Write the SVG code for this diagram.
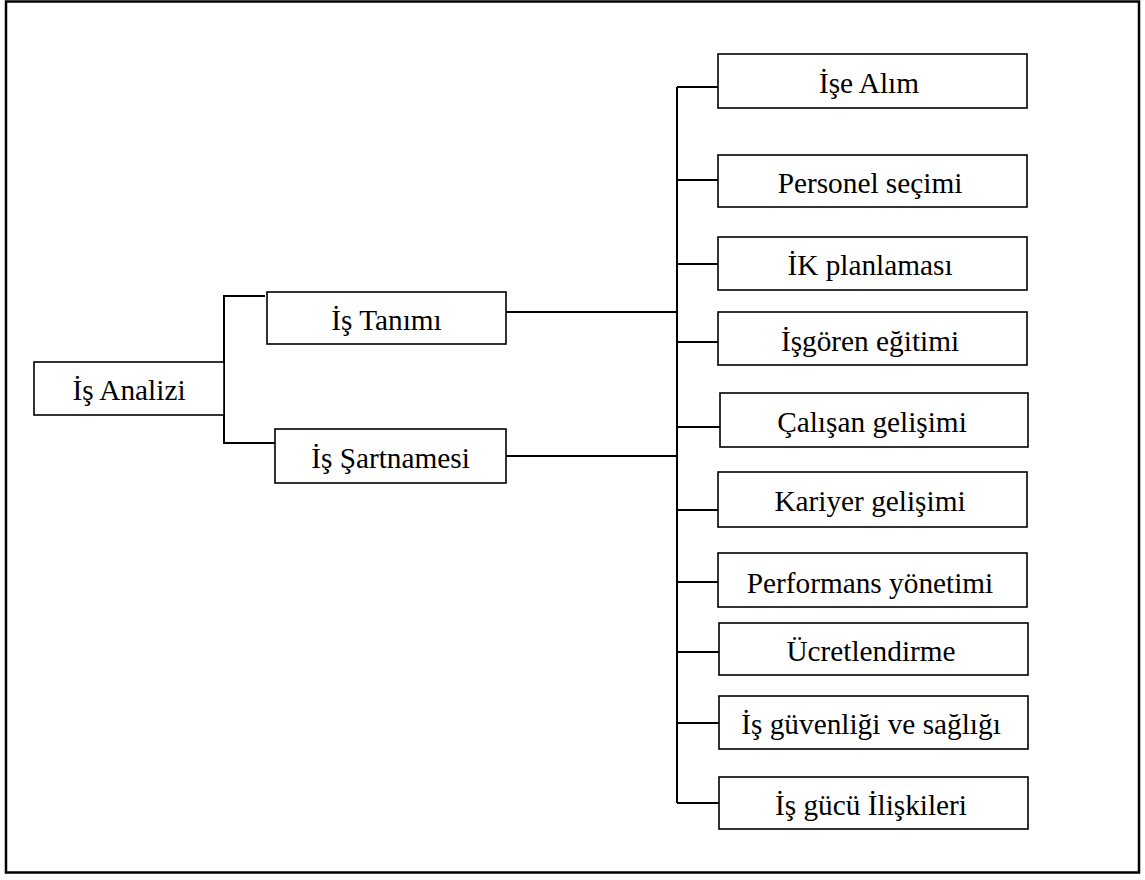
<svg xmlns="http://www.w3.org/2000/svg" width="1145" height="880" viewBox="0 0 1145 880">
<style>
.box{fill:#fff;stroke:#000;stroke-width:1.6}
.lbl{font-family:"Liberation Serif","Times New Roman",serif;font-size:29.3px;fill:#000;text-anchor:middle}
.con{fill:none;stroke:#000;stroke-width:2}
</style>
<rect x="0" y="0" width="1145" height="880" fill="#fff"/>
<rect x="6" y="1.5" width="1133" height="871" fill="none" stroke="#000" stroke-width="2.5"/>
<g id="connectors" class="con">
<path d="M265,296 H224 V443 H275"/>
<path d="M506,312 H677"/>
<path d="M506,456 H678"/>
<path d="M677,87 V803"/>
<path d="M677,87 H718"/>
<path d="M677,180 H718"/>
<path d="M677,264 H718"/>
<path d="M677,342 H718"/>
<path d="M677,427 H720"/>
<path d="M677,510 H718"/>
<path d="M677,582 H718"/>
<path d="M677,652 H719"/>
<path d="M677,723 H719"/>
<path d="M677,803 H719"/>
</g>
<g id="n-is-analizi"><rect class="box" x="34" y="362" width="190" height="53"/><text class="lbl" x="129" y="400">İş Analizi</text></g>
<g id="n-is-tanimi"><rect class="box" x="267" y="292" width="239" height="52"/><text class="lbl" x="386.5" y="330">İş Tanımı</text></g>
<g id="n-is-sartnamesi"><rect class="box" x="275" y="429" width="231" height="54"/><text class="lbl" x="390.5" y="468">İş Şartnamesi</text></g>
<g id="n-ise-alim"><rect class="box" x="718" y="54" width="309" height="54"/><text class="lbl" x="869" y="93">İşe Alım</text></g>
<g id="n-personel"><rect class="box" x="718" y="155" width="309" height="52"/><text class="lbl" x="870" y="193">Personel seçimi</text></g>
<g id="n-ik"><rect class="box" x="718" y="237" width="309" height="53"/><text class="lbl" x="870" y="275">İK planlaması</text></g>
<g id="n-isgoren"><rect class="box" x="718" y="312" width="309" height="53"/><text class="lbl" x="870" y="351">İşgören eğitimi</text></g>
<g id="n-calisan"><rect class="box" x="720" y="393" width="308" height="54"/><text class="lbl" x="872" y="432">Çalışan gelişimi</text></g>
<g id="n-kariyer"><rect class="box" x="718" y="472" width="309" height="55"/><text class="lbl" x="870" y="511">Kariyer gelişimi</text></g>
<g id="n-performans"><rect class="box" x="718" y="553" width="309" height="54"/><text class="lbl" x="870" y="593">Performans yönetimi</text></g>
<g id="n-ucret"><rect class="box" x="719" y="623" width="309" height="52"/><text class="lbl" x="871" y="661">Ücretlendirme</text></g>
<g id="n-guvenlik"><rect class="box" x="719" y="696" width="309" height="53"/><text class="lbl" x="871" y="734">İş güvenliği ve sağlığı</text></g>
<g id="n-isgucu"><rect class="box" x="719" y="777" width="309" height="52"/><text class="lbl" x="871" y="815">İş gücü İlişkileri</text></g>
</svg>
